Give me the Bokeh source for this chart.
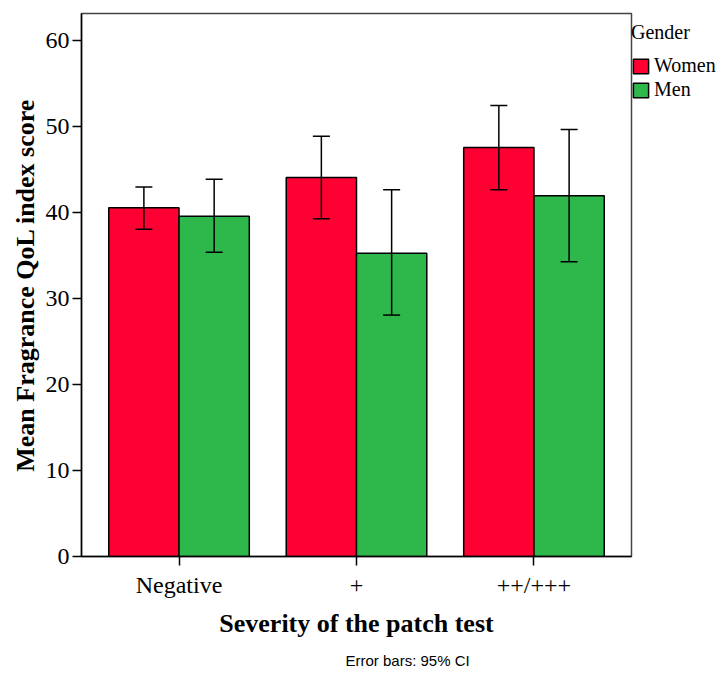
from bokeh.plotting import figure
from bokeh.models import (ColumnDataSource, FactorRange, Whisker, TeeHead, Legend,
                          LegendItem, FixedTicker, Title)
from bokeh.transform import dodge
from bokeh.embed import file_html
from bokeh.resources import INLINE

categories = ["Negative", "+", "++/+++"]
women_mean = [40.6, 44.1, 47.6]
women_lower = [38.1, 39.3, 42.7]
women_upper = [43.0, 48.9, 52.5]
men_mean = [39.6, 35.3, 42.0]
men_lower = [35.4, 28.1, 34.3]
men_upper = [43.9, 42.7, 49.7]
y_ticks = [0, 10, 20, 30, 40, 50, 60]

RED = "#ff0033"
GREEN = "#2eb84c"
SERIF = "Liberation Serif"

p = figure(frame_width=550, frame_height=543, output_backend="svg", toolbar_location=None,
           x_range=FactorRange(factors=categories, range_padding=0.033),
           y_range=(0, 63.2),
           min_border_left=81, min_border_right=94, min_border_top=13,
           min_border_bottom=119)

src_w = ColumnDataSource(dict(cat=categories, top=women_mean, lo=women_lower, hi=women_upper))
src_m = ColumnDataSource(dict(cat=categories, top=men_mean, lo=men_lower, hi=men_upper))

bw = 0.396
rw = p.vbar(x=dodge("cat", -bw / 2, range=p.x_range), top="top", bottom=0, width=bw,
            source=src_w, fill_color=RED, line_color="black", line_width=1.5)
rm = p.vbar(x=dodge("cat", bw / 2, range=p.x_range), top="top", bottom=0, width=bw,
            source=src_m, fill_color=GREEN, line_color="black", line_width=1.5)

for src, off in ((src_w, -bw / 2), (src_m, bw / 2)):
    wk = Whisker(source=src, base=dodge("cat", off, range=p.x_range), upper="hi", lower="lo",
                 line_color="black", line_width=1.5, level="overlay",
                 upper_head=TeeHead(size=17, line_color="black", line_width=1.5),
                 lower_head=TeeHead(size=17, line_color="black", line_width=1.5))
    p.add_layout(wk)

p.xgrid.visible = False
p.ygrid.visible = False
p.outline_line_color = "#444444"
p.outline_line_width = 1.5
p.background_fill_color = "white"
p.border_fill_color = "white"

p.yaxis.ticker = FixedTicker(ticks=y_ticks)
for ax in (p.xaxis[0], p.yaxis[0]):
    ax.axis_line_color = "black"
    ax.axis_line_width = 1.5
    ax.major_tick_line_color = "black"
    ax.major_tick_line_width = 1.5
    ax.major_tick_out = 9
    ax.major_tick_in = 0
    ax.minor_tick_line_color = None
    ax.major_label_text_font = SERIF
    ax.major_label_text_font_size = "24px"
    ax.major_label_text_color = "black"
    ax.axis_label_text_font = SERIF
    ax.axis_label_text_font_size = "26px"
    ax.axis_label_text_font_style = "bold"
    ax.axis_label_text_color = "black"

p.yaxis.axis_label = "Mean Fragrance QoL index score"
p.yaxis.major_label_standoff = 3
p.yaxis.axis_label_standoff = 3
p.xaxis.axis_label = "Severity of the patch test"
p.xaxis.major_label_standoff = 6
p.xaxis.axis_label_standoff = 8

legend = Legend(items=[LegendItem(label="Women", renderers=[rw]),
                       LegendItem(label="Men", renderers=[rm])],
                location=(0, 455), title="Gender",
                title_text_font=SERIF, title_text_font_size="20px",
                title_text_font_style="normal", title_text_color="black",
                label_text_font=SERIF, label_text_font_size="20px", label_text_color="black",
                glyph_width=19, glyph_height=18, label_standoff=4, spacing=1,
                padding=3, margin=0, border_line_color=None, background_fill_alpha=0,
                title_standoff=10)
p.add_layout(legend, "right")

note = Title(text="Error bars: 95% CI", align="left", offset=264,
             text_font="Liberation Sans", text_font_size="15px",
             text_font_style="normal", text_color="black", standoff=18)
p.add_layout(note, "below")

open("out.html", "w").write(file_html(p, INLINE))
